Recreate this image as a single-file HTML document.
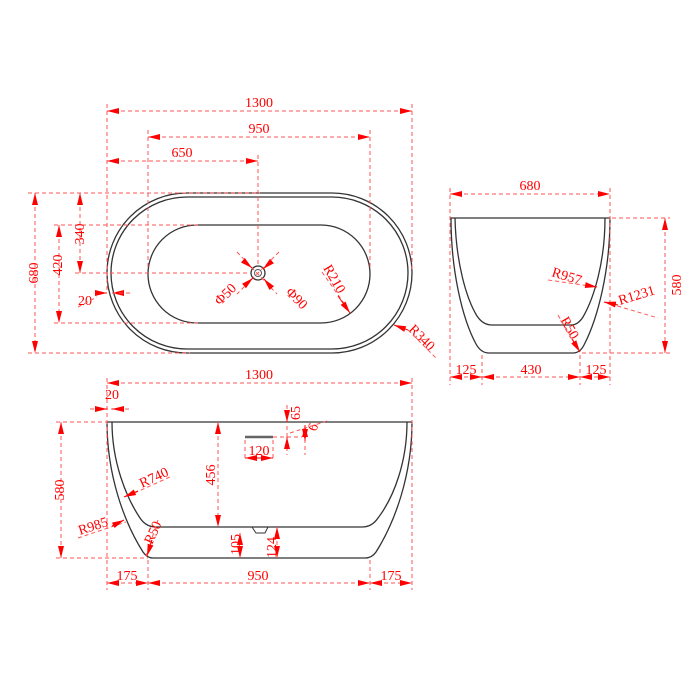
<!DOCTYPE html>
<html><head><meta charset="utf-8"><style>
html,body{margin:0;padding:0;background:#fff;}
svg{display:block;}
text{font-family:"Liberation Serif",serif;fill:#f00;font-size:14px;}
.d{stroke:#f55;stroke-width:1;stroke-dasharray:4,3;fill:none;}
.a{stroke:#f00;stroke-width:1;fill:none;}
.o{stroke:#333;stroke-width:1.3;fill:none;}
</style></head><body>
<svg width="700" height="700" viewBox="0 0 700 700" xmlns="http://www.w3.org/2000/svg">
<defs>
<marker id="m" viewBox="0 0 12 6" refX="12" refY="3" markerWidth="12" markerHeight="6" markerUnits="userSpaceOnUse" orient="auto-start-reverse">
<path d="M0,0 L12,3 L0,6 Z" fill="#f00"/></marker>
</defs>

<!-- ===== TOP VIEW ===== -->
<rect class="o" x="107" y="193" width="305" height="160" rx="80" ry="80"/>
<rect class="o" x="111" y="197" width="297" height="152" rx="76" ry="76"/>
<rect class="o" x="148" y="225" width="222" height="98" rx="49" ry="49"/>
<circle class="o" cx="258" cy="273" r="7"/>
<circle cx="258" cy="273" r="3.5" fill="none" stroke="#555" stroke-width="1"/>

<line class="d" x1="107" y1="104" x2="107" y2="290"/>
<line class="d" x1="412" y1="104" x2="412" y2="270"/>
<line class="d" x1="148" y1="130" x2="148" y2="270"/>
<line class="d" x1="370" y1="130" x2="370" y2="270"/>
<line class="d" x1="258" y1="155" x2="258" y2="265"/>
<line class="d" x1="28" y1="193" x2="260" y2="193"/>
<line class="d" x1="28" y1="353" x2="190" y2="353"/>
<line class="d" x1="54" y1="225" x2="200" y2="225"/>
<line class="d" x1="54" y1="323" x2="200" y2="323"/>
<line class="d" x1="75" y1="273" x2="250" y2="273"/>

<line class="d" x1="107" y1="111" x2="412" y2="111" marker-start="url(#m)" marker-end="url(#m)"/>
<text x="259" y="107" text-anchor="middle">1300</text>
<line class="d" x1="148" y1="137" x2="370" y2="137" marker-start="url(#m)" marker-end="url(#m)"/>
<text x="259" y="133" text-anchor="middle">950</text>
<line class="d" x1="107" y1="161" x2="258" y2="161" marker-start="url(#m)" marker-end="url(#m)"/>
<text x="182" y="157" text-anchor="middle">650</text>

<line class="d" x1="35" y1="193" x2="35" y2="353" marker-start="url(#m)" marker-end="url(#m)"/>
<text transform="translate(38,273) rotate(-90)" text-anchor="middle">680</text>
<line class="d" x1="59" y1="225" x2="59" y2="323" marker-start="url(#m)" marker-end="url(#m)"/>
<text transform="translate(62,265) rotate(-90)" text-anchor="middle">420</text>
<line class="d" x1="80" y1="193" x2="80" y2="273" marker-start="url(#m)" marker-end="url(#m)"/>
<text transform="translate(84,234) rotate(-90)" text-anchor="middle">340</text>

<line class="a" x1="96" y1="293" x2="107" y2="293" marker-end="url(#m)"/>
<line class="a" x1="122" y1="293" x2="112" y2="293" marker-end="url(#m)"/>
<line class="d" x1="112" y1="293" x2="130" y2="293"/>
<text x="78" y="305">20</text>
<line class="d" x1="78" y1="307" x2="97" y2="297"/>

<line class="d" x1="237" y1="252" x2="277" y2="294"/>
<line class="d" x1="279" y1="252" x2="237" y2="294"/>
<line class="a" x1="245" y1="262" x2="252" y2="268" marker-end="url(#m)"/>
<line class="a" x1="270" y1="286" x2="264" y2="279" marker-end="url(#m)"/>
<line class="a" x1="272" y1="261" x2="263" y2="269" marker-end="url(#m)"/>
<line class="a" x1="244" y1="286" x2="253" y2="278" marker-end="url(#m)"/>
<text transform="translate(220,306) rotate(-45)">Φ50</text>
<text transform="translate(285,293) rotate(45)">Φ90</text>
<text transform="translate(323,268) rotate(60)">R210</text>
<line class="d" x1="322" y1="272" x2="350" y2="312"/>
<line class="a" x1="338" y1="296" x2="350" y2="313" marker-end="url(#m)"/>
<text transform="translate(408,330) rotate(45)">R340</text>
<line class="a" x1="408" y1="330" x2="394" y2="325" marker-end="url(#m)"/>
<line class="d" x1="408" y1="330" x2="436" y2="358"/>

<!-- ===== SIDE VIEW ===== -->
<line class="o" x1="450" y1="218" x2="610" y2="218"/>
<path class="o" d="M451,218 C451,270 462,318 476,344 Q481,353 489,353 L573,353 Q580,353 584,345 C598,318 610,270 610,218"/>
<path class="o" d="M455,218 C456,262 466,298 477,316 Q483,325 492,325 L571,325 Q578,325 583,317 C594,298 605,262 605,218"/>

<line class="d" x1="450" y1="188" x2="450" y2="385"/>
<line class="d" x1="610" y1="188" x2="610" y2="385"/>
<line class="d" x1="482" y1="355" x2="482" y2="385"/>
<line class="d" x1="580" y1="355" x2="580" y2="385"/>
<line class="d" x1="612" y1="218" x2="670" y2="218"/>
<line class="d" x1="582" y1="353" x2="670" y2="353"/>
<line class="d" x1="450" y1="194" x2="610" y2="194" marker-start="url(#m)" marker-end="url(#m)"/>
<text x="530" y="190" text-anchor="middle">680</text>
<line class="d" x1="665" y1="218" x2="665" y2="353" marker-start="url(#m)" marker-end="url(#m)"/>
<text transform="translate(681,285) rotate(-90)" text-anchor="middle">580</text>
<line class="d" x1="450" y1="377" x2="482" y2="377" marker-start="url(#m)" marker-end="url(#m)"/>
<line class="d" x1="482" y1="377" x2="580" y2="377" marker-start="url(#m)" marker-end="url(#m)"/>
<line class="d" x1="580" y1="377" x2="610" y2="377" marker-start="url(#m)" marker-end="url(#m)"/>
<text x="466" y="374" text-anchor="middle">125</text>
<text x="531" y="374" text-anchor="middle">430</text>
<text x="596" y="374" text-anchor="middle">125</text>
<text transform="translate(551,276) rotate(17)">R957</text>
<line class="d" x1="548" y1="280" x2="597" y2="287"/>
<line class="a" x1="585" y1="285" x2="597" y2="287" marker-end="url(#m)"/>
<text transform="translate(620,305) rotate(-17)">R1231</text>
<line class="d" x1="604" y1="302" x2="658" y2="318"/>
<line class="a" x1="618" y1="305" x2="604" y2="302" marker-end="url(#m)"/>
<text transform="translate(560,320) rotate(60)">R50</text>
<line class="d" x1="558" y1="315" x2="580" y2="352"/>
<line class="a" x1="572" y1="339" x2="580" y2="352" marker-end="url(#m)"/>

<!-- ===== FRONT VIEW ===== -->
<line class="o" x1="107" y1="422" x2="412" y2="422"/>
<path class="o" d="M107,422 C107,475 124,522 143,552 Q147,558 153,558 L365,558 Q372,558 376,552 C395,522 412,475 412,422"/>
<path class="o" d="M112,422 C112,462 126,497 140,518 Q146,527 156,527 L362,527 Q372,527 378,518 C394,497 407,462 407,422"/>
<path d="M252,527 L256,533 L265,533 L268,527" fill="none" stroke="#333" stroke-width="1"/>
<line x1="245" y1="437" x2="273" y2="437" stroke="#666" stroke-width="2.5"/>

<line class="d" x1="107" y1="378" x2="107" y2="590"/>
<line class="d" x1="412" y1="378" x2="412" y2="590"/>
<line class="d" x1="148" y1="560" x2="148" y2="590"/>
<line class="d" x1="370" y1="560" x2="370" y2="590"/>
<line class="d" x1="56" y1="422" x2="107" y2="422"/>
<line class="d" x1="56" y1="558" x2="148" y2="558"/>
<line class="d" x1="107" y1="383" x2="412" y2="383" marker-start="url(#m)" marker-end="url(#m)"/>
<text x="259" y="379" text-anchor="middle">1300</text>
<line class="d" x1="90" y1="409" x2="130" y2="409"/>
<line class="a" x1="96" y1="409" x2="107" y2="409" marker-end="url(#m)"/>
<line class="a" x1="122" y1="409" x2="112" y2="409" marker-end="url(#m)"/>
<text x="105" y="399">20</text>
<line class="d" x1="61" y1="422" x2="61" y2="558" marker-start="url(#m)" marker-end="url(#m)"/>
<text transform="translate(64,490) rotate(-90)" text-anchor="middle">580</text>
<line class="d" x1="218" y1="422" x2="218" y2="527" marker-start="url(#m)" marker-end="url(#m)"/>
<text transform="translate(215,475) rotate(-90)" text-anchor="middle">456</text>
<line class="d" x1="107" y1="583" x2="148" y2="583" marker-start="url(#m)" marker-end="url(#m)"/>
<line class="d" x1="148" y1="583" x2="370" y2="583" marker-start="url(#m)" marker-end="url(#m)"/>
<line class="d" x1="370" y1="583" x2="412" y2="583" marker-start="url(#m)" marker-end="url(#m)"/>
<text x="127" y="580" text-anchor="middle">175</text>
<text x="258" y="580" text-anchor="middle">950</text>
<text x="391" y="580" text-anchor="middle">175</text>
<line class="d" x1="245" y1="440" x2="245" y2="461"/>
<line class="d" x1="273" y1="440" x2="273" y2="461"/>
<line class="a" x1="245" y1="458" x2="273" y2="458" marker-start="url(#m)" marker-end="url(#m)"/>
<text x="259" y="455" text-anchor="middle">120</text>
<line class="d" x1="273" y1="437" x2="302" y2="437"/>
<line class="d" x1="287" y1="405" x2="287" y2="455"/>
<line class="d" x1="305" y1="425" x2="305" y2="455"/>
<line class="a" x1="287" y1="410" x2="287" y2="422" marker-end="url(#m)"/>
<line class="a" x1="287" y1="448" x2="287" y2="437" marker-end="url(#m)"/>
<line class="a" x1="305" y1="425" x2="305" y2="441" marker-start="url(#m)" marker-end="url(#m)"/>
<text transform="translate(300,420) rotate(-90)">65</text>
<text transform="translate(316,432) rotate(-70)">6</text>
<line class="d" x1="290" y1="433" x2="330" y2="420"/>
<line class="d" x1="240" y1="533" x2="240" y2="558" marker-start="url(#m)" marker-end="url(#m)"/>
<text transform="translate(240,555) rotate(-90)">105</text>
<line class="d" x1="277" y1="527" x2="277" y2="558" marker-start="url(#m)" marker-end="url(#m)"/>
<text transform="translate(276,558) rotate(-90)">124</text>
<text transform="translate(142,488) rotate(-25)">R740</text>
<line class="d" x1="128" y1="496" x2="172" y2="476"/>
<line class="a" x1="138" y1="491" x2="124" y2="497" marker-end="url(#m)"/>
<text transform="translate(80,535) rotate(-18)">R985</text>
<line class="d" x1="78" y1="538" x2="126" y2="522"/>
<line class="a" x1="112" y1="526" x2="124" y2="520" marker-end="url(#m)"/>
<text transform="translate(152,545) rotate(-65)">R50</text>
<line class="d" x1="158" y1="520" x2="146" y2="556"/>
<line class="a" x1="152" y1="540" x2="147" y2="556" marker-end="url(#m)"/>
</svg>
</body></html>
